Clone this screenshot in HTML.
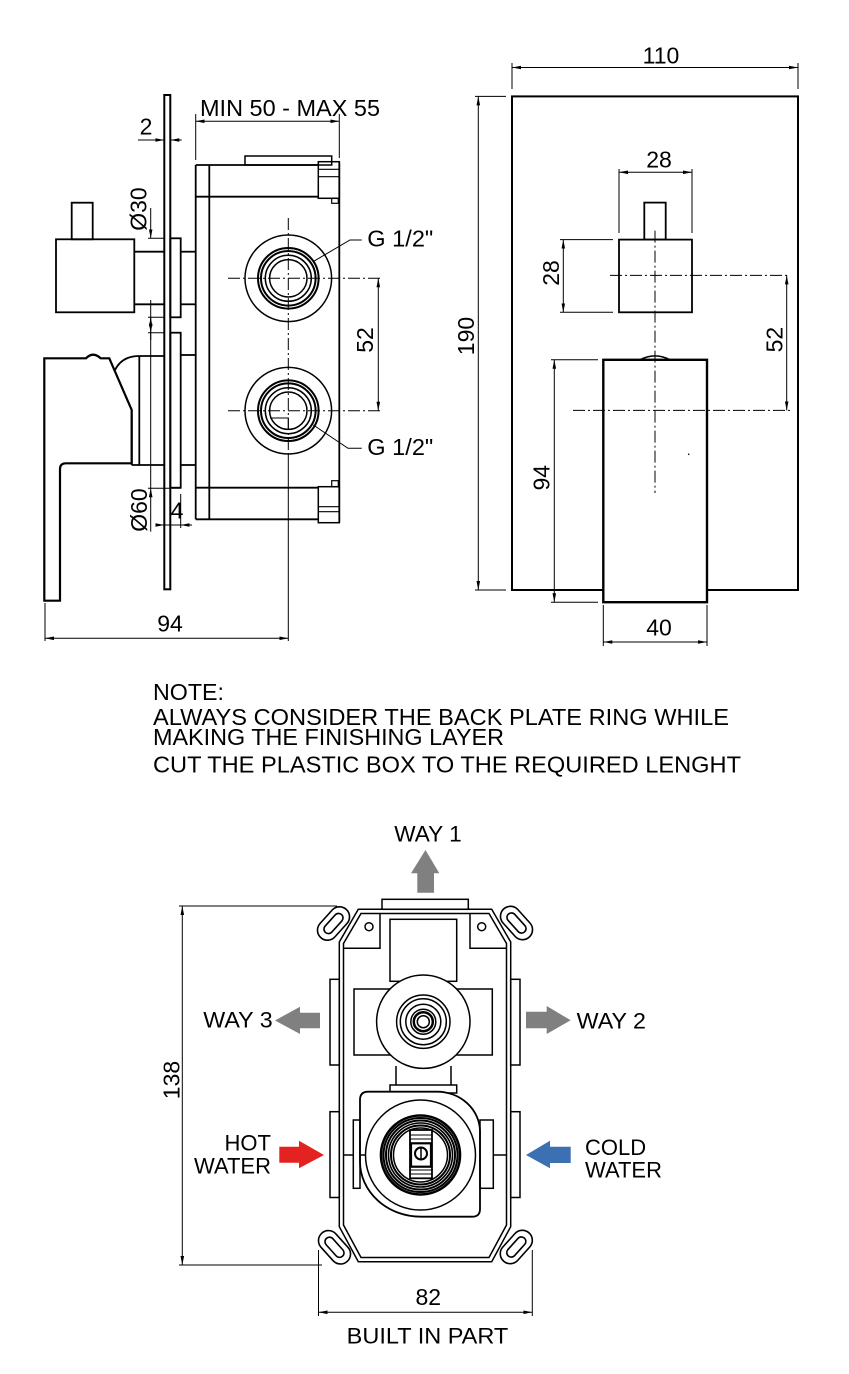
<!DOCTYPE html>
<html><head><meta charset="utf-8"><style>
html,body{margin:0;padding:0;background:#fff;}
svg{display:block;}
text{font-family:"Liberation Sans",Arial,sans-serif;fill:#000;}
</style></head><body>
<svg width="849" height="1374" viewBox="0 0 849 1374" xmlns="http://www.w3.org/2000/svg">
<defs>
<marker id="a" viewBox="0 0 10 4" refX="10" refY="2" markerWidth="9" markerHeight="3.6" markerUnits="userSpaceOnUse" orient="auto-start-reverse"><path d="M0,0 L10,2 L0,4 z" fill="#000"/></marker>
</defs>
<rect width="849" height="1374" fill="#fff"/>

<!-- ================= SIDE VIEW ================= -->
<g fill="none" stroke="#000" stroke-width="1.8">
  <rect x="164.3" y="95" width="6" height="494.3" stroke-width="2"/>
  <line x1="195.7" y1="165" x2="195.7" y2="519.3"/>
  <line x1="209.3" y1="165" x2="209.3" y2="519.3"/>
  <line x1="195.7" y1="165" x2="318.3" y2="165"/>
  <line x1="195.7" y1="196.7" x2="318.3" y2="196.7"/>
  <line x1="195.7" y1="487.7" x2="318.3" y2="487.7"/>
  <line x1="195.7" y1="519.3" x2="318.3" y2="519.3"/>
  <line x1="339.3" y1="161.7" x2="339.3" y2="522.7"/>
  <rect x="245" y="156" width="86.7" height="9" stroke-width="1.5"/>
  <rect x="318.3" y="161.7" width="21" height="36.6" stroke-width="1.5"/>
  <line x1="318.3" y1="169.3" x2="339.3" y2="169.3" stroke-width="1.2"/>
  <line x1="318.3" y1="176.7" x2="339.3" y2="176.7" stroke-width="1.2"/>
  <rect x="331.7" y="198.3" width="6.6" height="5" stroke-width="1.2"/>
  <rect x="318.3" y="486.7" width="21" height="36" stroke-width="1.5"/>
  <line x1="318.3" y1="506.7" x2="339.3" y2="506.7" stroke-width="1.2"/>
  <line x1="318.3" y1="511.7" x2="339.3" y2="511.7" stroke-width="1.2"/>
  <rect x="331.7" y="480.7" width="6.6" height="6" stroke-width="1.2"/>
  <g stroke-width="1.5">
    <circle cx="288.3" cy="278.3" r="43.3"/>
    <circle cx="288.3" cy="278.3" r="30.3" stroke-width="2"/>
    <circle cx="288.3" cy="278.3" r="27.3" stroke-width="2"/>
    <circle cx="288.3" cy="278.3" r="23"/>
    <circle cx="288.3" cy="278.3" r="18.7"/>
    <circle cx="288.3" cy="410.7" r="43.3"/>
    <circle cx="288.3" cy="410.7" r="30.3" stroke-width="2"/>
    <circle cx="288.3" cy="410.7" r="27.3" stroke-width="2"/>
    <circle cx="288.3" cy="410.7" r="23"/>
    <circle cx="288.3" cy="410.7" r="18.7"/>
    <path d="M270,418 H288.3 V429" stroke-width="1"/>
  </g>
  <rect x="71.7" y="202.7" width="21" height="36.6"/>
  <rect x="56" y="239.3" width="78.3" height="73"/>
  <line x1="134.3" y1="251.7" x2="164.3" y2="251.7"/>
  <line x1="134.3" y1="304.3" x2="164.3" y2="304.3"/>
  <rect x="170.3" y="238.3" width="10.4" height="79"/>
  <line x1="180.7" y1="251.7" x2="195.7" y2="251.7"/>
  <line x1="180.7" y1="304.3" x2="195.7" y2="304.3"/>
  <rect x="170.3" y="332.7" width="10.4" height="155"/>
  <line x1="180.7" y1="355" x2="195.7" y2="355"/>
  <line x1="180.7" y1="465" x2="195.7" y2="465"/>
  <path d="M44.3,600.7 V358.3 H86 Q93,351 100.7,358.3 H109.3 L131.7,410 V463.3 H66 Q60,463.3 60,469 V600.7 Z" stroke-width="2.2"/>
  <path d="M115,370 Q122,356 139.3,356" />
  <line x1="139.3" y1="356" x2="139.3" y2="465"/>
  <line x1="139.3" y1="356" x2="164.3" y2="356"/>
  <line x1="131.7" y1="465" x2="164.3" y2="465"/>
  <line x1="131.7" y1="410" x2="131.7" y2="465"/>
</g>
<g stroke="#000" stroke-width="1" fill="none" stroke-dasharray="12 3 2 3">
  <line x1="288.3" y1="218" x2="288.3" y2="455"/>
  <line x1="228" y1="278.3" x2="380" y2="278.3"/>
  <line x1="228" y1="410.7" x2="380" y2="410.7"/>
</g>
<g stroke="#000" stroke-width="1" fill="none">
  <line x1="288.3" y1="455" x2="288.3" y2="641"/>
  <line x1="195.7" y1="121.3" x2="339.3" y2="121.3" marker-start="url(#a)" marker-end="url(#a)"/>
  <line x1="195.7" y1="114" x2="195.7" y2="160"/>
  <line x1="339.3" y1="114" x2="339.3" y2="158"/>
  <line x1="138" y1="140" x2="164.3" y2="140" marker-end="url(#a)"/>
  <line x1="181.7" y1="140" x2="170.3" y2="140" marker-end="url(#a)"/>
  <line x1="378.3" y1="278.3" x2="378.3" y2="410.7" marker-start="url(#a)" marker-end="url(#a)"/>
  <path d="M313,261.7 L350,240 H361.7"/>
  <path d="M313.3,425 L348,448.3 H361.7"/>
  <line x1="150.7" y1="208" x2="150.7" y2="238.3" marker-end="url(#a)"/>
  <line x1="150.7" y1="340" x2="150.7" y2="317.3" marker-end="url(#a)"/>
  <line x1="150.7" y1="300" x2="150.7" y2="332.7" marker-end="url(#a)"/>
  <line x1="150.7" y1="531.7" x2="150.7" y2="488.3" marker-end="url(#a)"/>
  <line x1="150.7" y1="332.7" x2="150.7" y2="488.3"/>
  <line x1="148" y1="238.3" x2="164.3" y2="238.3"/>
  <line x1="148" y1="317.3" x2="164.3" y2="317.3"/>
  <line x1="148" y1="332.7" x2="164.3" y2="332.7"/>
  <line x1="148" y1="488.3" x2="180.7" y2="488.3"/>
  <line x1="158.3" y1="525" x2="191.7" y2="525"/>
  <line x1="157" y1="525" x2="164.3" y2="525" marker-end="url(#a)"/>
  <line x1="192" y1="525" x2="180.7" y2="525" marker-end="url(#a)"/>
  <line x1="180.7" y1="494" x2="180.7" y2="528"/>
  <line x1="45" y1="638.3" x2="288.3" y2="638.3" marker-start="url(#a)" marker-end="url(#a)"/>
  <line x1="45" y1="603" x2="45" y2="641"/>
</g>
<g font-size="23">
  <text x="200" y="116" textLength="180" lengthAdjust="spacingAndGlyphs">MIN 50 - MAX 55</text>
  <text x="146" y="134.3" text-anchor="middle">2</text>
  <text x="367.3" y="246.7" textLength="66" lengthAdjust="spacingAndGlyphs">G 1/2"</text>
  <text x="367.3" y="455" textLength="66" lengthAdjust="spacingAndGlyphs">G 1/2"</text>
  <text x="365" y="348" text-anchor="middle" transform="rotate(-90 365 340)">52</text>
  <text x="138.3" y="217" text-anchor="middle" transform="rotate(-90 138.3 209)">Ø30</text>
  <text x="139.2" y="518" text-anchor="middle" transform="rotate(-90 139.2 510)">Ø60</text>
  <text x="177" y="518.3" text-anchor="middle">4</text>
  <text x="170" y="631.7" text-anchor="middle">94</text>
</g>

<!-- ================= FRONT VIEW ================= -->
<g fill="none" stroke="#000" stroke-width="2">
  <rect x="512" y="96.4" width="286" height="493.6"/>
  <rect x="644.3" y="202.6" width="21.4" height="37" stroke-width="1.8"/>
  <rect x="619" y="239.6" width="73" height="72.7" stroke-width="1.8"/>
  <rect x="603.3" y="359.8" width="103.7" height="242.4" fill="#fff" stroke-width="2.4"/>
  <path d="M640,359.8 Q655,352 670,359.8" stroke-width="1.5"/>
</g>
<g stroke="#000" stroke-width="1" fill="none" stroke-dasharray="12 3 2 3">
  <line x1="610" y1="275.4" x2="790" y2="275.4"/>
  <line x1="573" y1="410.4" x2="790" y2="410.4"/>
  <line x1="655" y1="230.6" x2="655" y2="493"/>
</g>
<g stroke="#000" stroke-width="1" fill="none">
  <line x1="512" y1="67.5" x2="798" y2="67.5" marker-start="url(#a)" marker-end="url(#a)"/>
  <line x1="512" y1="63" x2="512" y2="89"/>
  <line x1="798" y1="63" x2="798" y2="89"/>
  <line x1="478.3" y1="96.4" x2="478.3" y2="590" marker-start="url(#a)" marker-end="url(#a)"/>
  <line x1="475" y1="96.4" x2="506" y2="96.4"/>
  <line x1="475" y1="590" x2="506" y2="590"/>
  <line x1="619" y1="172.3" x2="692" y2="172.3" marker-start="url(#a)" marker-end="url(#a)"/>
  <line x1="619" y1="169" x2="619" y2="233"/>
  <line x1="692" y1="169" x2="692" y2="233"/>
  <line x1="563.3" y1="239.6" x2="563.3" y2="312.3" marker-start="url(#a)" marker-end="url(#a)"/>
  <line x1="560" y1="239.6" x2="613" y2="239.6"/>
  <line x1="560" y1="312.3" x2="613" y2="312.3"/>
  <line x1="786.7" y1="275.4" x2="786.7" y2="410.4" marker-start="url(#a)" marker-end="url(#a)"/>
  <line x1="554.3" y1="359.8" x2="554.3" y2="602.2" marker-start="url(#a)" marker-end="url(#a)"/>
  <line x1="551" y1="359.8" x2="598" y2="359.8"/>
  <line x1="551" y1="602.2" x2="598" y2="602.2"/>
  <line x1="603.3" y1="642" x2="707" y2="642" marker-start="url(#a)" marker-end="url(#a)"/>
  <line x1="603.3" y1="605" x2="603.3" y2="646"/>
  <line x1="707" y1="605" x2="707" y2="646"/>
</g>
<circle cx="688.7" cy="454.3" r="0.8" fill="#000"/>
<g font-size="23">
  <text x="661" y="63.3" text-anchor="middle">110</text>
  <text x="466" y="344" text-anchor="middle" transform="rotate(-90 466 336)">190</text>
  <text x="659" y="167.6" text-anchor="middle">28</text>
  <text x="551" y="281" text-anchor="middle" transform="rotate(-90 551 273)">28</text>
  <text x="774.5" y="347.6" text-anchor="middle" transform="rotate(-90 774.5 339.6)">52</text>
  <text x="541.7" y="485.7" text-anchor="middle" transform="rotate(-90 541.7 477.7)">94</text>
  <text x="659" y="635.3" text-anchor="middle">40</text>
</g>

<!-- ================= NOTE ================= -->
<g font-size="23">
  <text x="153" y="700" textLength="71" lengthAdjust="spacingAndGlyphs">NOTE:</text>
  <text x="153" y="725" textLength="576" lengthAdjust="spacingAndGlyphs">ALWAYS CONSIDER THE BACK PLATE RING WHILE</text>
  <text x="153" y="745" textLength="351" lengthAdjust="spacingAndGlyphs">MAKING THE FINISHING LAYER</text>
  <text x="153" y="772.7" textLength="588" lengthAdjust="spacingAndGlyphs">CUT THE PLASTIC BOX TO THE REQUIRED LENGHT</text>
</g>

<!-- ================= BUILT IN PART ================= -->
<g fill="none" stroke="#000" stroke-width="1.5">
  <rect x="382" y="899.3" width="86.3" height="10"/>
  <path d="M358.3,909.3 H491.7 L510.7,942 V1226.7 L491.7,1261.7 H358.3 L339.3,1226.7 V942 Z"/>
  <path d="M361,913.5 H489 L506.5,943.5 V1225 L489,1257.5 H361 L343.5,1225 V943.5 Z"/>
  <circle cx="369" cy="926.7" r="4"/>
  <circle cx="481.7" cy="926.7" r="4"/>
  <polyline points="343.5,948.3 380,948.3 380,913.5"/>
  <polyline points="470,913.5 470,948.3 506.5,948.3"/>
  <rect x="390" y="919.3" width="66.7" height="62"/>
  <rect x="354" y="989" width="138.3" height="66"/>
  <circle cx="423.3" cy="1021.7" r="46.7" fill="#fff"/>
  <circle cx="423.3" cy="1021.7" r="26.7"/>
  <circle cx="423.3" cy="1021.7" r="23"/>
  <circle cx="423.3" cy="1021.7" r="17.5"/>
  <circle cx="423.3" cy="1021.7" r="12.5"/>
  <circle cx="423.3" cy="1021.7" r="9.5" stroke-width="2.5"/>
  <circle cx="423.3" cy="1021.7" r="6"/>
  <rect x="330" y="979.3" width="9.3" height="85.7"/>
  <rect x="330" y="1111.7" width="9.3" height="85.8"/>
  <rect x="510.7" y="979.3" width="9.3" height="85.7"/>
  <rect x="510.7" y="1111.7" width="9.3" height="85.8"/>
  <line x1="396" y1="1066" x2="396" y2="1085"/>
  <line x1="451" y1="1066" x2="451" y2="1085"/>
  <rect x="390" y="1085" width="66.7" height="8"/>
  <!-- housing -->
  <path d="M368,1091.7 H437 A43,40 0 0 1 480,1131 V1209 Q480,1216.7 472.3,1216.7 H421 A61,55 0 0 1 360,1162 V1100 Q360,1091.7 368,1091.7 Z" fill="#fff" stroke-width="1.8"/>
  <rect x="353.3" y="1120" width="6.7" height="68.3"/>
  <rect x="480" y="1120" width="13.3" height="68.3"/>
  <line x1="343.5" y1="1155" x2="353.3" y2="1155"/>
  <line x1="493.3" y1="1155" x2="506.5" y2="1155"/>
  <line x1="360" y1="1155" x2="370" y2="1155"/>
  <circle cx="420.5" cy="1155" r="55" fill="#fff"/>
  <circle cx="420.5" cy="1155" r="39.5" stroke-width="2.6"/>
  <circle cx="420.5" cy="1155" r="37" stroke-width="2"/>
  <circle cx="420.5" cy="1155" r="34.5" stroke-width="2"/>
  <circle cx="420.5" cy="1155" r="32" stroke-width="1.6"/>
  <circle cx="420.5" cy="1155" r="29.5" stroke-width="2"/>
  <circle cx="420.5" cy="1155" r="27" stroke-width="1.5"/>
  <rect x="410" y="1130" width="22" height="48.3" fill="#fff" stroke-width="1.8"/>
  <line x1="410" y1="1135" x2="432" y2="1135" stroke-width="1"/>
  <line x1="410" y1="1139" x2="432" y2="1139" stroke-width="1"/>
  <line x1="410" y1="1170" x2="432" y2="1170" stroke-width="1"/>
  <line x1="410" y1="1174" x2="432" y2="1174" stroke-width="1"/>
  <rect x="411" y="1143.3" width="20" height="23.4" stroke-width="2.2"/>
  <circle cx="421" cy="1153.5" r="6" stroke-width="2"/>
  <line x1="421" y1="1148" x2="421" y2="1159" stroke-width="1.5"/>
</g>
<g fill="#fff" stroke="#000" stroke-width="1.6">
  <g transform="translate(333.5 923.5) rotate(-48)">
    <rect x="-19" y="-10" width="38" height="20" rx="10"/>
    <rect x="-12" y="-4.5" width="24" height="9" rx="4.5"/>
  </g>
  <g transform="translate(516.5 923) rotate(48)">
    <rect x="-19" y="-10" width="38" height="20" rx="10"/>
    <rect x="-12" y="-4.5" width="24" height="9" rx="4.5"/>
  </g>
  <g transform="translate(334.5 1247.3) rotate(48)">
    <rect x="-19" y="-10" width="38" height="20" rx="10"/>
    <rect x="-12" y="-4.5" width="24" height="9" rx="4.5"/>
  </g>
  <g transform="translate(516.3 1247) rotate(-48)">
    <rect x="-19" y="-10" width="38" height="20" rx="10"/>
    <rect x="-12" y="-4.5" width="24" height="9" rx="4.5"/>
  </g>
</g>
<polygon points="417.3,892.7 434,892.7 434,873.3 439.3,873.3 425.5,850 411,873.3 417.3,873.3" fill="#808080"/>
<polygon points="320,1012.7 300,1012.7 300,1006.7 275,1020.5 300,1034 300,1028.3 320,1028.3" fill="#808080"/>
<polygon points="526,1011.7 546.7,1011.7 546.7,1006 570.7,1020.3 546.7,1034 546.7,1028.3 526,1028.3" fill="#808080"/>
<polygon points="279.3,1146.7 299,1146.7 299,1140.7 324,1155 299,1168.3 299,1162.7 279.3,1162.7" fill="#e42320"/>
<polygon points="570.7,1146.7 550,1146.7 550,1140.7 526,1155 550,1168.3 550,1163 570.7,1163" fill="#3b70b3"/>
<g stroke="#000" stroke-width="1" fill="none">
  <line x1="182.3" y1="906" x2="182.3" y2="1265" marker-start="url(#a)" marker-end="url(#a)"/>
  <line x1="179" y1="906" x2="337" y2="906"/>
  <line x1="179" y1="1265" x2="322" y2="1265"/>
  <line x1="318.5" y1="1250" x2="318.5" y2="1316"/>
  <line x1="532.3" y1="1250" x2="532.3" y2="1316"/>
  <line x1="318.5" y1="1312.3" x2="532.3" y2="1312.3" marker-start="url(#a)" marker-end="url(#a)"/>
</g>
<g font-size="22">
  <text x="394.3" y="841.7" textLength="67.4" lengthAdjust="spacingAndGlyphs">WAY 1</text>
  <text x="203.3" y="1027.3" textLength="69.4" lengthAdjust="spacingAndGlyphs">WAY 3</text>
  <text x="576.7" y="1028.3" textLength="69.3" lengthAdjust="spacingAndGlyphs">WAY 2</text>
  <text x="271" y="1150.7" text-anchor="end">HOT</text>
  <text x="271" y="1173.3" text-anchor="end">WATER</text>
  <text x="585" y="1155">COLD</text>
  <text x="585" y="1177.3">WATER</text>
  <text x="171.7" y="1088" text-anchor="middle" transform="rotate(-90 171.7 1080)" font-size="23">138</text>
  <text x="428.3" y="1305" text-anchor="middle" font-size="23">82</text>
  <text x="346.7" y="1343.3" textLength="161.6" lengthAdjust="spacingAndGlyphs">BUILT IN PART</text>
</g>
</svg>
</body></html>
